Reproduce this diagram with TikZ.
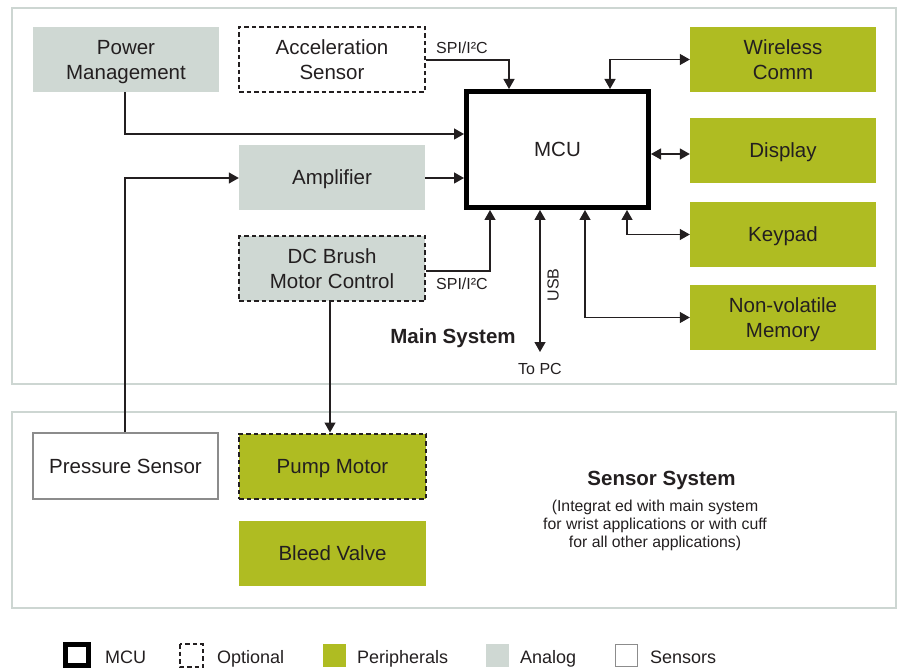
\documentclass[tikz,border=0pt]{standalone}
\usepackage{fontspec}
\setmainfont{Liberation Sans}
\usetikzlibrary{arrows.meta,calc}
\definecolor{ink}{HTML}{231F20}
\definecolor{periph}{HTML}{AFBC22}
\definecolor{analog}{HTML}{CFD8D3}
\definecolor{framegray}{HTML}{CDD6D2}
\definecolor{sensline}{HTML}{8C8C8C}
\newcommand{\boxfont}{\fontsize{20.5}{25}\selectfont}
\newcommand{\busfont}{\fontsize{16}{19}\selectfont}
\newcommand{\legfont}{\fontsize{18}{21}\selectfont}
\begin{document}
\begin{tikzpicture}[x=1pt,y=-1pt,
  blk/.style={rectangle, minimum width=186pt, minimum height=65pt, inner sep=0pt,
    text=ink, font=\boxfont, align=center, text depth=0pt},
  periphbox/.style={blk, fill=periph},
  analogbox/.style={blk, fill=analog},
  sensorbox/.style={blk, fill=white, draw=sensline, line width=1.3pt},
  optional/.style={draw=ink, line width=2pt, dash pattern=on 4.5pt off 3pt},
  mcubox/.style={rectangle, draw=black, line width=5pt, fill=white, inner sep=0pt,
    minimum width=182pt, minimum height=116pt, text=ink, font=\boxfont, text depth=0pt},
  sysframe/.style={draw=framegray, line width=2.5pt},
  arr/.style={draw=ink, line width=1.3pt, -{Triangle[length=10pt,width=11pt]}},
  dbl/.style={draw=ink, line width=1.3pt, {Triangle[length=10pt,width=11pt]}-{Triangle[length=10pt,width=11pt]}},
  lbl/.style={text=ink, inner sep=0pt},
  legtext/.style={lbl, font=\legfont, anchor=base west},
]
\useasboundingbox (0,0) rectangle (901,668);

% system frames
\draw[sysframe] (12,8) rectangle (896,384);
\draw[sysframe] (12,412) rectangle (896,608);

% main system blocks
\node[analogbox] (pm) at (126,59.5) {Power\\Management};
\node[blk, fill=white, optional] (acc) at (332,59.5) {Acceleration\\Sensor};
\node[mcubox] (mcu) at (557.5,149.5) {MCU};
\node[periphbox] (wl) at (783,59.5) {Wireless\\Comm};
\node[periphbox] (disp) at (783,150.5) {Display};
\node[periphbox] (kp) at (783,234.5) {Keypad};
\node[periphbox] (nvm) at (783,317.5) {Non-volatile\\Memory};
\node[analogbox] (amp) at (332,177.5) {Amplifier};
\node[analogbox, optional] (dc) at (332,268.5) {DC Brush\\Motor Control};

% sensor system blocks
\node[sensorbox, minimum width=185pt, minimum height=66pt] (ps) at (125.5,466) {Pressure Sensor};
\node[periphbox, optional, minimum width=187pt] (pump) at (332.5,466) {Pump Motor};
\node[periphbox, minimum width=187pt] (bv) at (332.5,553.5) {Bleed Valve};

% connectors
\draw[arr] ([yshift=-0.5pt]acc.east) -| ([xshift=-48.5pt]mcu.north);
\draw[dbl] ([xshift=52.5pt]mcu.north) |- (wl.west);
\draw[arr] ([xshift=-1pt]pm.south) |- ([yshift=15.5pt]mcu.west);
\draw[arr] ([yshift=-0.5pt]amp.east) -- ([yshift=-0.5pt]amp.east -| mcu.west);
\draw[arr] ([xshift=-0.5pt]ps.north) |- ([yshift=-0.5pt]amp.west);
\draw[dbl] ([yshift=-4.5pt]mcu.east) -- ([yshift=-4.5pt]mcu.east -| disp.west);
\draw[arr] ([yshift=-2.5pt]dc.east) -| ([xshift=-67.5pt]mcu.south);
\coordinate (topc) at (540,352);
\draw[dbl] ([xshift=-17.5pt]mcu.south) -- (topc);
\draw[dbl] ([xshift=27.5pt]mcu.south) |- (nvm.west);
\draw[dbl] ([xshift=69.5pt]mcu.south) |- (kp.west);
\draw[arr] ([xshift=-2pt]dc.south) -- ([xshift=-2.5pt]pump.north);

% connector labels
\node[lbl, font=\busfont, anchor=west] (spi1) at (436,48) {SPI/I²C};
\node[lbl, font=\busfont, anchor=west] (spi2) at (436,284) {SPI/I²C};
\node[lbl, font=\busfont, rotate=90] (usb) at (553,285) {USB};
\node[lbl, font=\busfont] (pc) at (540,368.5) {To PC};

% system titles
\node[lbl, font=\fontsize{20.5}{24}\selectfont\bfseries] (mainsys) at (453,338.5) {Main System};
\node[lbl, font=\fontsize{20.5}{24}\selectfont\bfseries] (sensys) at (661.5,480.5) {Sensor System};
\node[lbl, font=\fontsize{15.8}{18}\selectfont, align=center] (sensnote) at (655,525)
  {(Integrat ed with main system\\for wrist applications or with cuff\\for all other applications)};

% legend
\draw[black, line width=5pt] (65.5,644.5) rectangle (88.5,665.5);
\node[legtext] (lgmcu) at (105,663) {MCU};
\draw[optional] (180,644) rectangle (203,667);
\node[legtext] (lgopt) at (217,663) {Optional};
\fill[periph] (323,644) rectangle (346,667);
\node[legtext] (lgper) at (357,663) {Peripherals};
\fill[analog] (486,644) rectangle (509,667);
\node[legtext] (lgana) at (520,663) {Analog};
\draw[sensline, line width=1.3pt, fill=white] (615.5,644.5) rectangle (637.5,666.5);
\node[legtext] (lgsen) at (650,663) {Sensors};
\end{tikzpicture}
\end{document}
